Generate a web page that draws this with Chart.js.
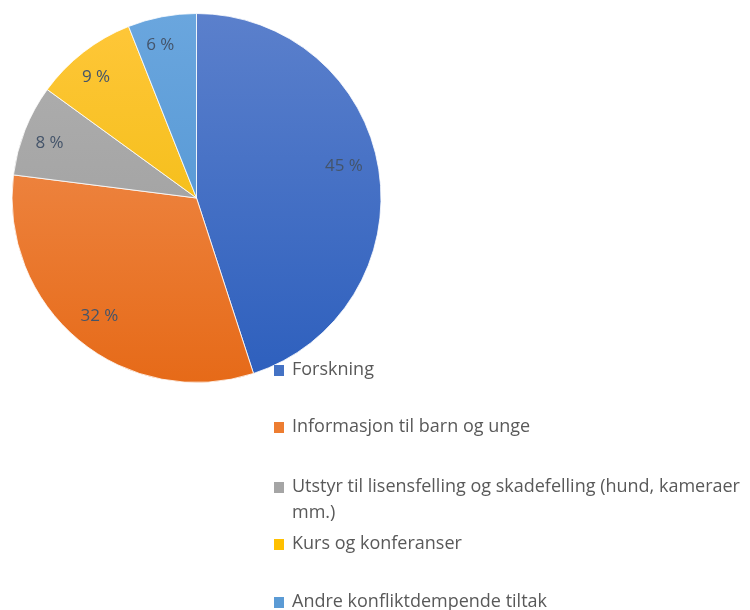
<!DOCTYPE html>
<html>
<head>
<meta charset="utf-8">
<script src="https://cdn.jsdelivr.net/npm/chart.js@4/dist/chart.umd.min.js"></script>
<style>
	html, body { margin: 0; padding: 0; background: #fff; }
	#wrap { width: 750px; height: 610px; position: relative; }
</style>
</head>
<body>
<div id="wrap"><canvas id="chart"></canvas></div>
<script>
var labels = [
	"Forskning",
	"Informasjon til barn og unge",
	"Utstyr til lisensfelling og skadefelling (hund, kameraer mm.)",
	"Kurs og konferanser",
	"Andre konfliktdempende tiltak"
];
var values = [45, 32, 8, 9, 6];

// legend text, split where the original wraps
var legendLines = [
	["Forskning"],
	["Informasjon til barn og unge"],
	["Utstyr til lisensfelling og skadefelling (hund, kameraer", "mm.)"],
	["Kurs og konferanser"],
	["Andre konfliktdempende tiltak"]
];

// top / bottom colour of each slice gradient
var topColors = ["#5b80cc", "#f29459", "#b0b0b0", "#ffc73a", "#6aa6de"];
var bottomColors = ["#2d5fbd", "#e66a18", "#9a9a9a", "#ecb800", "#4a90cf"];
var legendColors = ["#4472c4", "#ed7d31", "#a5a5a5", "#ffc000", "#5b9bd5"];

function sliceGradient(ctx) {
	var chart = ctx.chart;
	var area = chart.chartArea;
	if (!area) return topColors[ctx.dataIndex];
	var g = chart.ctx.createLinearGradient(0, area.top, 0, area.bottom);
	g.addColorStop(0, topColors[ctx.dataIndex]);
	g.addColorStop(1, bottomColors[ctx.dataIndex]);
	return g;
}

// percent labels inside the slices
var sliceLabels = {
	id: "sliceLabels",
	afterDatasetsDraw: function (chart) {
		var ctx = chart.ctx;
		var meta = chart.getDatasetMeta(0);
		ctx.save();
		ctx.font = "17px 'Open Sans'";
		ctx.fillStyle = "#44546a";
		ctx.textAlign = "center";
		ctx.textBaseline = "middle";
		meta.data.forEach(function (arc, i) {
			var p = arc.getProps(["x", "y", "startAngle", "endAngle", "outerRadius"], true);
			var mid = (p.startAngle + p.endAngle) / 2 - 0.03;
			var r = p.outerRadius * 0.83;
			ctx.fillText(values[i] + " %", p.x + Math.cos(mid) * r - 3, p.y + Math.sin(mid) * r - 3);
		});
		ctx.restore();
	}
};

// legend placed bottom right like the original
var sideLegend = {
	id: "sideLegend",
	afterDraw: function (chart) {
		var ctx = chart.ctx;
		var rows = [370, 427, 487, 544, 602];
		ctx.save();
		ctx.font = "18px 'Open Sans'";
		ctx.textBaseline = "middle";
		ctx.textAlign = "left";
		legendLines.forEach(function (lines, i) {
			ctx.fillStyle = legendColors[i];
			ctx.fillRect(274, rows[i] - 5, 10, 11);
			ctx.fillStyle = "#595959";
			lines.forEach(function (t, j) {
				ctx.fillText(t, 292, rows[i] + j * 26);
			});
		});
		ctx.restore();
	}
};

new Chart(document.getElementById("chart"), {
	type: "pie",
	data: {
		labels: labels,
		datasets: [{
			data: values,
			backgroundColor: sliceGradient,
			borderColor: "rgba(255,255,255,0.8)",
			borderWidth: 1
		}]
	},
	options: {
		responsive: true,
		maintainAspectRatio: false,
		animation: false,
		layout: { padding: { left: 11, top: 13, right: 368, bottom: 227 } },
		plugins: {
			legend: { display: false },
			tooltip: { enabled: false }
		}
	},
	plugins: [sliceLabels, sideLegend]
});
</script>
</body>
</html>
